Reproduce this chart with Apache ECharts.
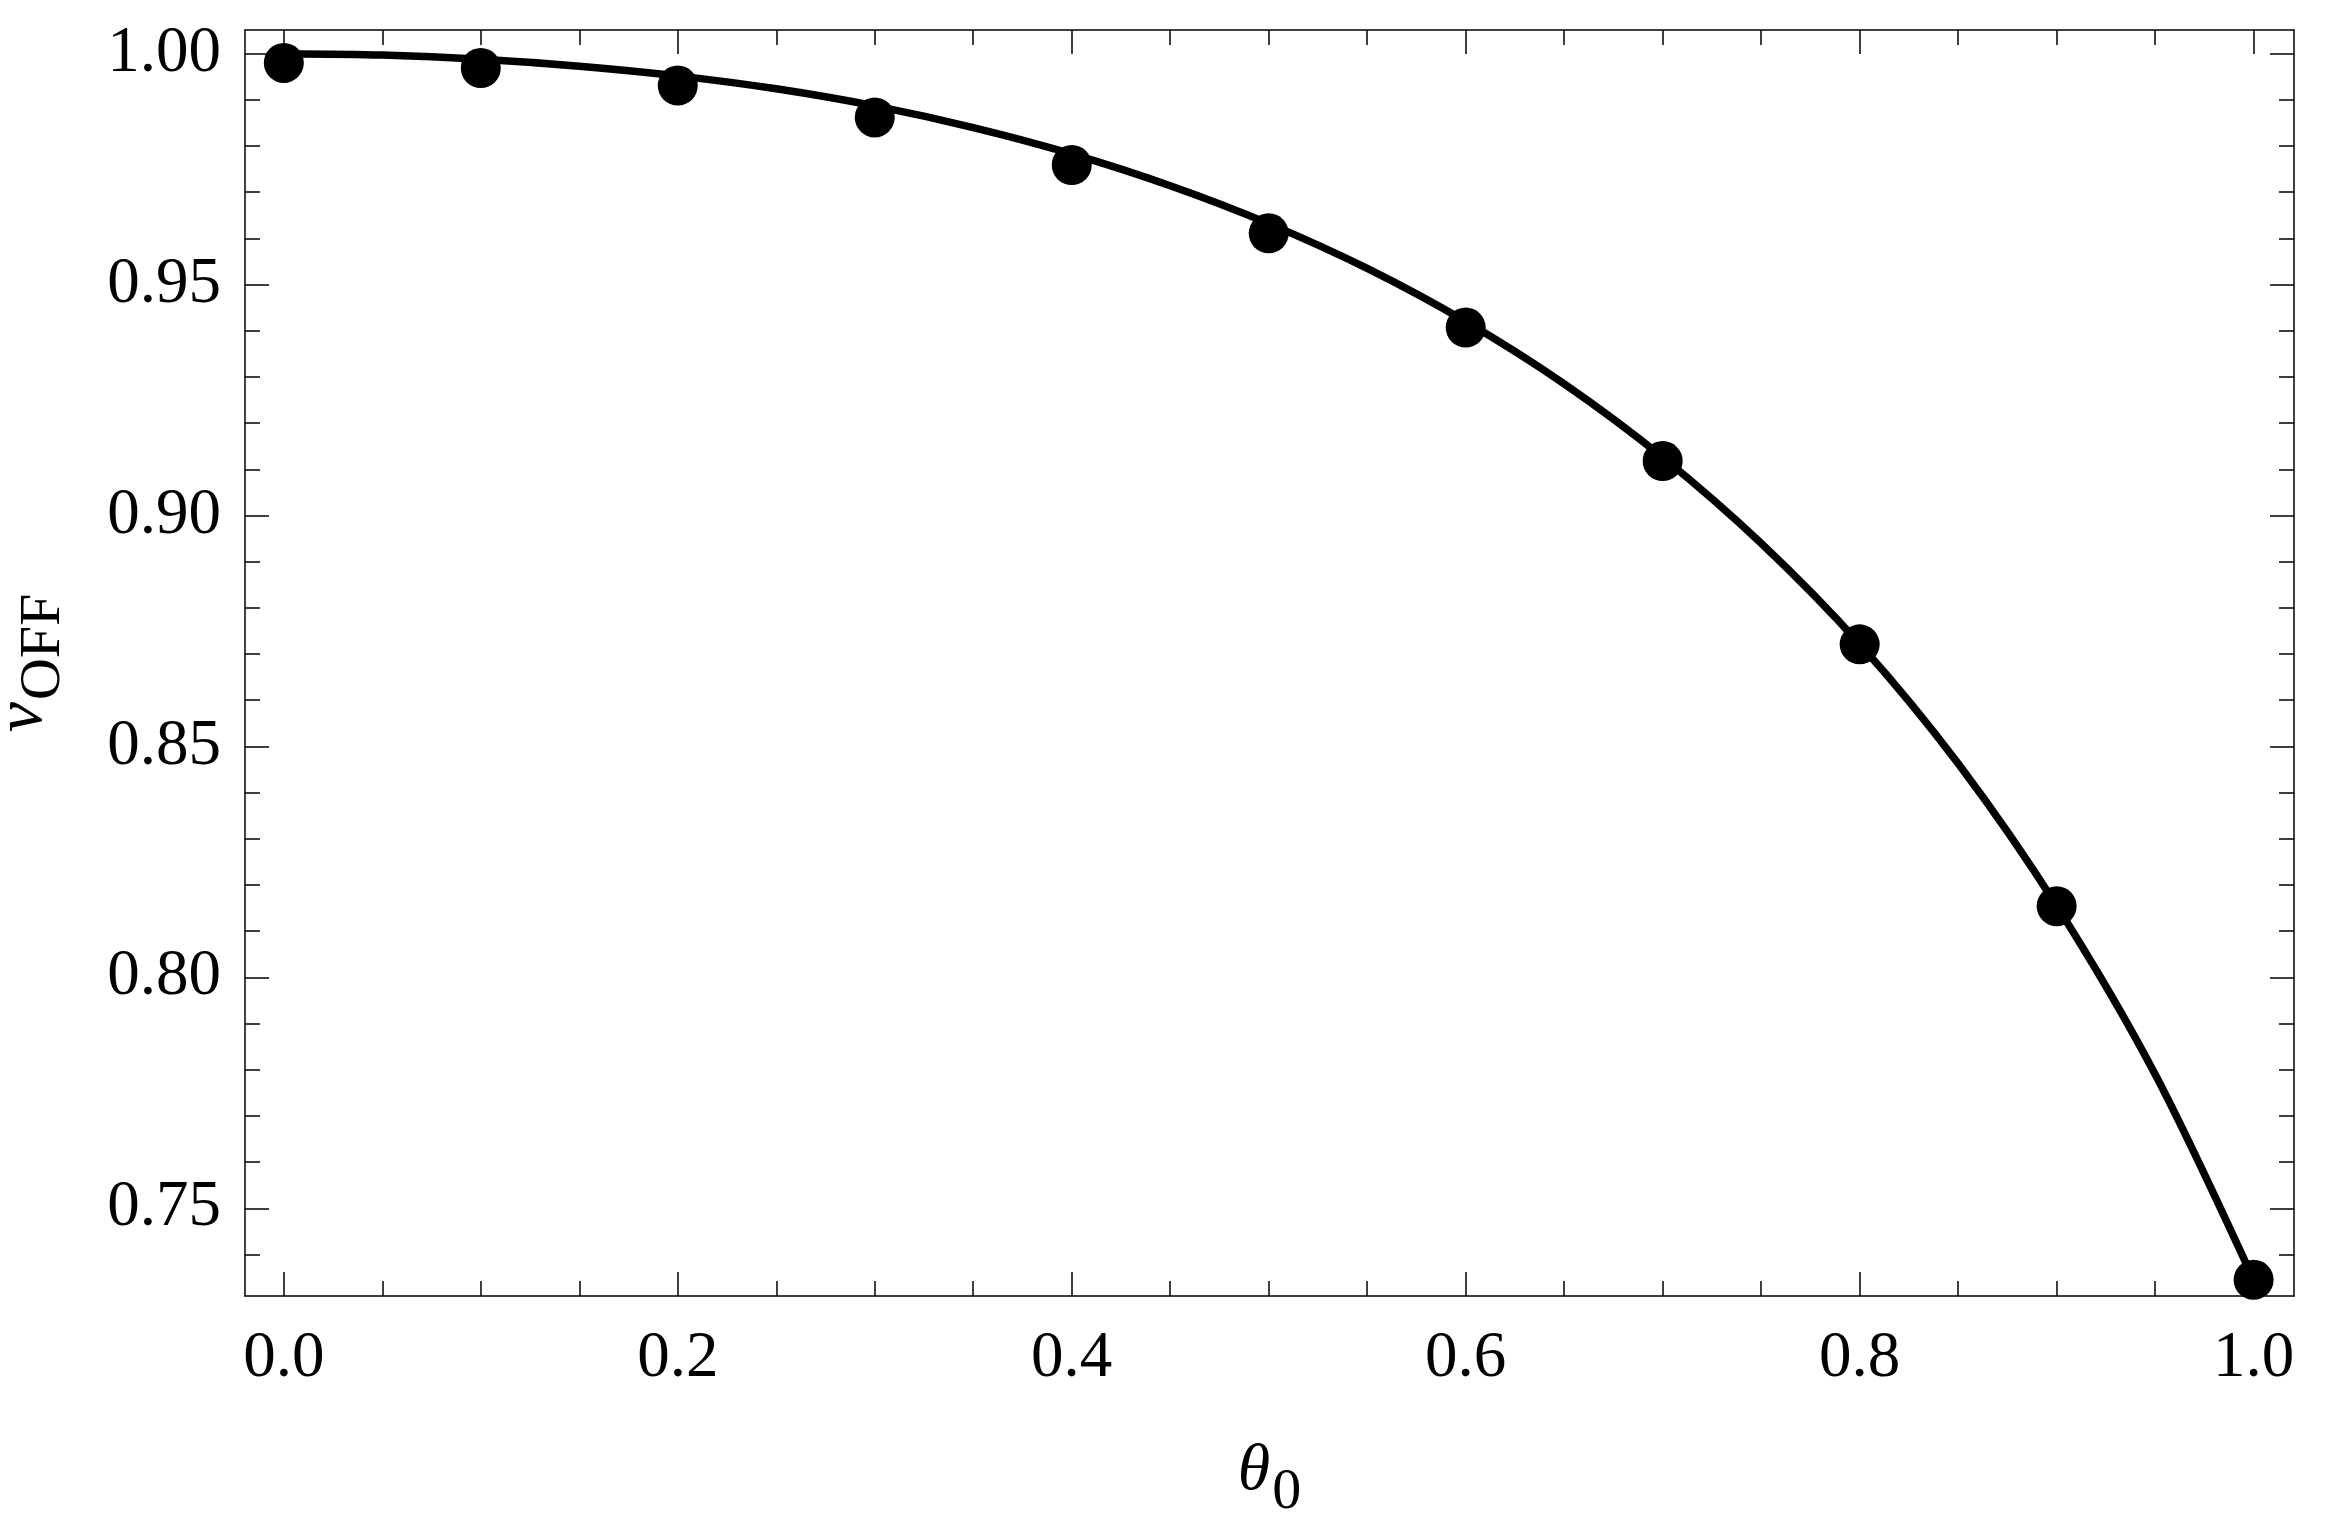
<!DOCTYPE html>
<html>
<head>
<meta charset="utf-8">
<script src="https://cdn.jsdelivr.net/npm/echarts@6/dist/echarts.min.js"></script>
<style>
html,body{margin:0;padding:0;background:#fff;}
#chart{width:2331px;height:1536px;}
</style>
</head>
<body>
<div id="chart"></div>
<script>
// theta_0 positions of the simulated points
const pointX = [0.0, 0.1, 0.2, 0.3, 0.4, 0.5, 0.6, 0.7, 0.8, 0.9, 1.0];
// v_OFF values of the simulated points
const pointY = [0.998, 0.9969, 0.9931, 0.9862, 0.9759, 0.9611, 0.9407, 0.9118, 0.8721, 0.8154, 0.7345];
// theoretical curve
const curveX = [0.0, 0.05, 0.1, 0.15, 0.2, 0.25, 0.3, 0.35, 0.4, 0.45, 0.5, 0.55, 0.6, 0.65, 0.7, 0.75, 0.8, 0.85, 0.9, 0.95, 1.0];
const curveY = [1.0000, 0.9997, 0.9988, 0.9973, 0.9952, 0.9924, 0.9887, 0.9840, 0.9783, 0.9714, 0.9632, 0.9535, 0.9420, 0.9285, 0.9126, 0.8940, 0.8722, 0.8463, 0.8155, 0.7790, 0.7345];
// axis ticks
const xMajorTicks = [0.0, 0.2, 0.4, 0.6, 0.8, 1.0];
const xMinorTicks = [0.05, 0.1, 0.15, 0.25, 0.3, 0.35, 0.45, 0.5, 0.55, 0.65, 0.7, 0.75, 0.85, 0.9, 0.95];
const yMajorTicks = [0.75, 0.80, 0.85, 0.90, 0.95, 1.00];
const yMinorTicks = [0.74, 0.76, 0.77, 0.78, 0.79, 0.81, 0.82, 0.83, 0.84, 0.86, 0.87, 0.88, 0.89, 0.91, 0.92, 0.93, 0.94, 0.96, 0.97, 0.98, 0.99];
const xRange = [-0.0197, 1.0205];
const yRange = [0.7310, 1.00513];

const FONT = "'Liberation Serif', 'Times New Roman', serif";
const LINE = {color: '#000', width: 1.5};

function makeAxis(kind, pos, ticks, len, withLine, extra) {
  const range = kind === 'x' ? xRange : yRange;
  return Object.assign({
    type: 'value', position: pos, min: range[0], max: range[1],
    axisLine: {show: withLine, onZero: false, lineStyle: LINE},
    axisTick: {show: true, inside: true, length: len, customValues: ticks, lineStyle: LINE},
    axisLabel: {show: false},
    splitLine: {show: false},
    minorTick: {show: false}
  }, extra || {});
}

const xAxes = [
  makeAxis('x', 'bottom', xMajorTicks, 24, true, {
    axisLabel: {show: true, customValues: xMajorTicks, margin: 30, fontFamily: FONT, fontSize: 65, color: '#000',
      formatter: v => v.toFixed(1)},
    name: '{m|θ}{s|0}', nameLocation: 'middle', nameGap: 126,
    nameTextStyle: {rich: {
      m: {fontFamily: FONT, fontStyle: 'italic', fontSize: 66, color: '#000', verticalAlign: 'middle'},
      s: {fontFamily: FONT, fontSize: 58, color: '#000', padding: [42, 0, 0, 2], verticalAlign: 'middle'}
    }}
  }),
  makeAxis('x', 'bottom', xMinorTicks, 15, false),
  makeAxis('x', 'top', xMajorTicks, 24, true),
  makeAxis('x', 'top', xMinorTicks, 15, false)
];
const yAxes = [
  makeAxis('y', 'left', yMajorTicks, 24, true, {
    axisLabel: {show: true, customValues: yMajorTicks, margin: 24, fontFamily: FONT, fontSize: 65, color: '#000',
      padding: [11, 0, 0, 0], formatter: v => v.toFixed(2)},
    name: '{m|v}{s|OFF}', nameLocation: 'middle', nameGap: 172,
    nameTextStyle: {rich: {
      m: {fontFamily: FONT, fontStyle: 'italic', fontSize: 68, color: '#000', verticalAlign: 'middle'},
      s: {fontFamily: FONT, fontSize: 58, color: '#000', padding: [42, 0, 0, 2], verticalAlign: 'middle'}
    }}
  }),
  makeAxis('y', 'left', yMinorTicks, 15, false),
  makeAxis('y', 'right', yMajorTicks, 24, true),
  makeAxis('y', 'right', yMinorTicks, 15, false)
];

const chart = echarts.init(document.getElementById('chart'), null, {renderer: 'canvas'});
chart.setOption({
  animation: false,
  backgroundColor: '#fff',
  grid: {left: 245, right: 37, top: 30, bottom: 240, containLabel: false, outerBoundsMode: 'none'},
  xAxis: xAxes,
  yAxis: yAxes,
  series: [
    {
      type: 'line', xAxisIndex: 0, yAxisIndex: 0,
      data: curveX.map((x, i) => [x, curveY[i]]),
      smooth: 0.3, showSymbol: false, symbol: 'none',
      lineStyle: {color: '#000', width: 7.5}, z: 2
    },
    {
      type: 'scatter', xAxisIndex: 0, yAxisIndex: 0,
      data: pointX.map((x, i) => [x, pointY[i]]),
      symbol: 'circle', symbolSize: 40,
      itemStyle: {color: '#000', opacity: 1}, z: 3
    }
  ]
});
</script>
</body>
</html>
